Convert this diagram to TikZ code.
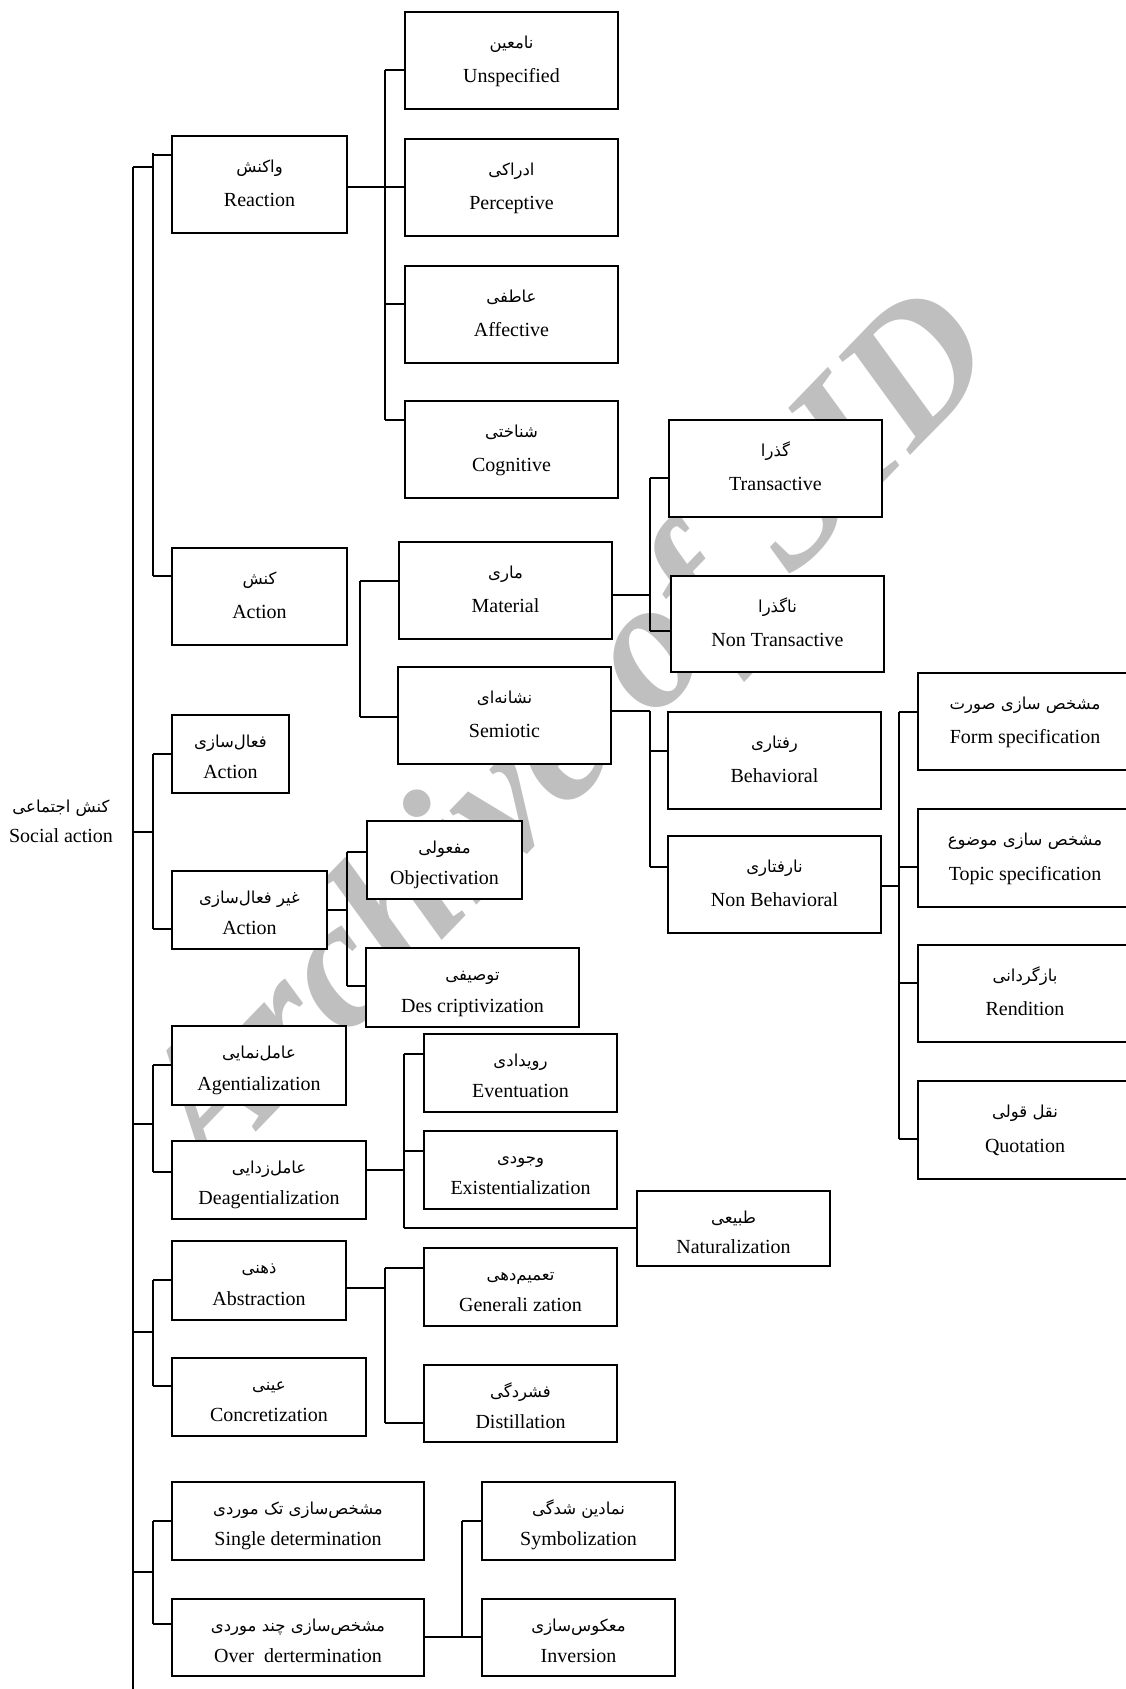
\documentclass[tikz,border=0pt]{standalone}
\usepackage{fontspec}
\setmainfont{Liberation Serif}
\newfontfamily\fa[Script=Arabic]{DejaVu Sans}
\TeXXeTstate=1
\tikzset{
  tbox/.style={draw, line width=1.6pt, fill=white, inner sep=0pt, rectangle},
  conn/.style={line width=1.6pt},
  entxt/.style={anchor=base, inner sep=0pt, font=\fontsize{20pt}{24pt}\selectfont},
  fatxt/.style={anchor=base, inner sep=0pt, font=\fontsize{16.5pt}{20pt}\selectfont\fa},
  wmark/.style={text=black!25, inner sep=0pt, font=\fontsize{183pt}{183pt}\selectfont\bfseries\itshape}
}
\newcommand\bx[7]{%
  \pgfmathsetmacro\bxw{#4-#2}\pgfmathsetmacro\bxh{#5-#3}%
  \pgfmathsetmacro\bxcx{(#2+#4)/2}\pgfmathsetmacro\bxcy{(#3+#5)/2}%
  \pgfmathsetmacro\bxfa{#3+0.2*\bxh+17}\pgfmathsetmacro\bxen{#3+0.37*\bxh+35}%
  \node[tbox, minimum width=\bxw pt, minimum height=\bxh pt] (#1) at (\bxcx,\bxcy) {};
  \node[fatxt] (#1-fa) at (\bxcx,\bxfa) {#6};
  \node[entxt] (#1-en) at (\bxcx,\bxen) {#7};
}
\begin{document}
\begin{tikzpicture}[x=1pt,y=-1pt]
\useasboundingbox (0,0) rectangle (1126,1689);
% watermark
\node[wmark, rotate=46] (wm) at (575,738) {Archive of SID};

% main spine
\coordinate (spineTop) at (133,167);
\coordinate (spineBot) at (133,1700);
\draw[conn] (spineTop) -- (spineBot);
\draw[conn] (spineTop) -- (153,167);

% ---------- connectors ----------
% group A
\draw[conn] (153,153) -- (153,576);
\draw[conn] (153,155) -- (172,155);
\draw[conn] (153,576) -- (172,576);
\draw[conn] (347,187) -- (385,187);
\draw[conn] (385,70) -- (385,420);
\draw[conn] (385,70) -- (405,70);
\draw[conn] (385,187) -- (405,187);
\draw[conn] (385,304) -- (405,304);
\draw[conn] (385,420) -- (405,420);
% action -> material / semiotic
\draw[conn] (360,581) -- (360,717);
\draw[conn] (360,581) -- (399,581);
\draw[conn] (360,717) -- (398,717);
% material
\draw[conn] (612,595) -- (650,595);
\draw[conn] (650,478) -- (650,631);
\draw[conn] (650,478) -- (669,478);
\draw[conn] (650,631) -- (671,631);
% semiotic
\draw[conn] (611,711) -- (650,711);
\draw[conn] (650,711) -- (650,867);
\draw[conn] (650,751) -- (668,751);
\draw[conn] (650,867) -- (668,867);
% non behavioral
\draw[conn] (881,886) -- (899,886);
\draw[conn] (899,712) -- (899,1139);
\draw[conn] (899,712) -- (918,712);
\draw[conn] (899,867) -- (918,867);
\draw[conn] (899,983) -- (918,983);
\draw[conn] (899,1139) -- (918,1139);
% group B
\draw[conn] (133,832) -- (153,832);
\draw[conn] (153,754) -- (153,929);
\draw[conn] (153,754) -- (172,754);
\draw[conn] (153,929) -- (172,929);
\draw[conn] (327,910) -- (347,910);
\draw[conn] (347,852) -- (347,986);
\draw[conn] (347,852) -- (367,852);
\draw[conn] (347,986) -- (366,986);
% group C
\draw[conn] (133,1124) -- (153,1124);
\draw[conn] (153,1065) -- (153,1172);
\draw[conn] (153,1065) -- (172,1065);
\draw[conn] (153,1172) -- (172,1172);
\draw[conn] (366,1170) -- (404,1170);
\draw[conn] (404,1054) -- (404,1228);
\draw[conn] (404,1054) -- (424,1054);
\draw[conn] (404,1151) -- (424,1151);
\draw[conn] (404,1228) -- (637,1228);
% group D
\draw[conn] (133,1332) -- (153,1332);
\draw[conn] (153,1280) -- (153,1386);
\draw[conn] (153,1280) -- (172,1280);
\draw[conn] (153,1386) -- (172,1386);
\draw[conn] (346,1288) -- (385,1288);
\draw[conn] (385,1268) -- (385,1423);
\draw[conn] (385,1268) -- (424,1268);
\draw[conn] (385,1423) -- (424,1423);
% group E
\draw[conn] (133,1572) -- (153,1572);
\draw[conn] (153,1521) -- (153,1624);
\draw[conn] (153,1521) -- (172,1521);
\draw[conn] (153,1624) -- (172,1624);
\draw[conn] (424,1637) -- (462,1637);
\draw[conn] (462,1521) -- (462,1637);
\draw[conn] (462,1521) -- (482,1521);
\draw[conn] (462,1637) -- (482,1637);

% ---------- boxes ----------
\bx{reaction}{172}{136}{347}{233}{\beginR واکنش\endR}{Reaction}
\bx{unspec}{405}{12}{618}{109}{\beginR نامعین\endR}{Unspecified}
\bx{percep}{405}{139}{618}{236}{\beginR ادراکی\endR}{Perceptive}
\bx{affect}{405}{266}{618}{363}{\beginR عاطفی\endR}{Affective}
\bx{cognit}{405}{401}{618}{498}{\beginR شناختی\endR}{Cognitive}
\bx{action}{172}{548}{347}{645}{\beginR کنش\endR}{Action}
\bx{material}{399}{542}{612}{639}{\beginR ماری\endR}{Material}
\bx{semiotic}{398}{667}{611}{764}{\beginR نشانه^^^^200cای\endR}{Semiotic}
\bx{trans}{669}{420}{882}{517}{\beginR گذرا\endR}{Transactive}
\bx{nontrans}{671}{576}{884}{672}{\beginR ناگذرا\endR}{Non Transactive}
\bx{behav}{668}{712}{881}{809}{\beginR رفتاری\endR}{Behavioral}
\bx{nonbehav}{668}{836}{881}{933}{\beginR نارفتاری\endR}{Non Behavioral}
\bx{formspec}{918}{673}{1132}{770}{\beginR مشخص سازی صورت\endR}{Form specification}
\bx{topicspec}{918}{809}{1132}{907}{\beginR مشخص سازی موضوع\endR}{Topic specification}
\bx{rendition}{918}{945}{1132}{1042}{\beginR بازگردانی\endR}{Rendition}
\bx{quotation}{918}{1081}{1132}{1179}{\beginR نقل قولی\endR}{Quotation}
\bx{active}{172}{715}{289}{793}{\beginR فعال^^^^200cسازی\endR}{Action}
\bx{nonactive}{172}{871}{327}{949}{\beginR غیر فعال^^^^200cسازی\endR}{Action}
\bx{objectiv}{367}{821}{522}{899}{\beginR مفعولی\endR}{Objectivation}
\bx{descript}{366}{948}{579}{1027}{\beginR توصیفی\endR}{Des criptivization}
\bx{agent}{172}{1026}{346}{1105}{\beginR عامل^^^^200cنمایی\endR}{Agentialization}
\bx{deagent}{172}{1141}{366}{1219}{\beginR عامل^^^^200cزدایی\endR}{Deagentialization}
\bx{event}{424}{1034}{617}{1112}{\beginR رویدادی\endR}{Eventuation}
\bx{exist}{424}{1131}{617}{1209}{\beginR وجودی\endR}{Existentialization}
\bx{natural}{637}{1191}{830}{1266}{\beginR طبیعی\endR}{Naturalization}
\bx{abstr}{172}{1241}{346}{1320}{\beginR ذهنی\endR}{Abstraction}
\bx{concret}{172}{1358}{366}{1436}{\beginR عینی\endR}{Concretization}
\bx{general}{424}{1248}{617}{1326}{\beginR تعمیم^^^^200cدهی\endR}{Generali zation}
\bx{distill}{424}{1365}{617}{1442}{\beginR فشردگی\endR}{Distillation}
\bx{single}{172}{1482}{424}{1560}{\beginR مشخص^^^^200cسازی تک موردی\endR}{Single determination}
\bx{over}{172}{1599}{424}{1676}{\beginR مشخص^^^^200cسازی چند موردی\endR}{Over\ \ dertermination}
\bx{symbol}{482}{1482}{675}{1560}{\beginR نمادین شدگی\endR}{Symbolization}
\bx{invers}{482}{1599}{675}{1676}{\beginR معکوس^^^^200cسازی\endR}{Inversion}

% root label
\node[fatxt] (social-fa) at (61,812) {\beginR کنش اجتماعی\endR};
\node[entxt] (social) at (61,842) {Social action};
\end{tikzpicture}
\end{document}
